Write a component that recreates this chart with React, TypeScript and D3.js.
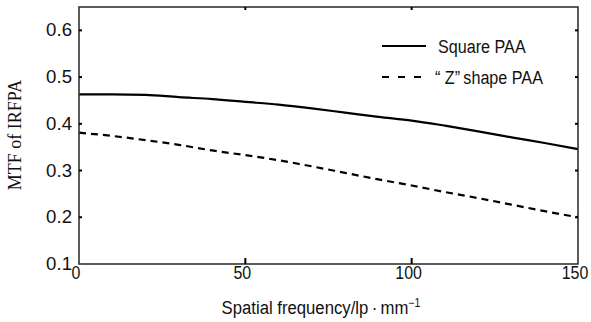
import * as d3 from "d3";
import { useEffect, useRef } from "react";

const freq = [0, 10, 20, 30, 40, 50, 60, 70, 80, 90, 100, 110, 120, 130, 140, 150];
const squarePAA = [0.463, 0.463, 0.462, 0.457, 0.453, 0.447, 0.441, 0.433, 0.424, 0.415, 0.407, 0.396, 0.384, 0.371, 0.359, 0.346];
const zShapePAA = [0.381, 0.374, 0.365, 0.355, 0.343, 0.333, 0.322, 0.309, 0.295, 0.281, 0.268, 0.254, 0.241, 0.227, 0.213, 0.2];
const xTicks = [0, 50, 100, 150];
const yTicks = [0.1, 0.2, 0.3, 0.4, 0.5, 0.6];
const seriesNames = ["Square PAA", "\u201c Z\u201d\u2009shape PAA"];

const SANS = "'Liberation Sans', Arial, sans-serif";

export default function App() {
  const ref = useRef<SVGSVGElement>(null);

  useEffect(() => {
    const svg = d3.select(ref.current);
    svg.selectAll("*").remove();
    const left = 79, right = 578, top = 7, bottom = 264;

    const x = d3.scaleLinear().domain([0, 150]).range([left, right]);
    const y = d3.scaleLinear().domain([0.1, 0.65]).range([bottom, top]);

    const line = d3.line<number>().x((_, i) => x(freq[i])).y(d => y(d)).curve(d3.curveMonotoneX);

    svg.append("path").datum(squarePAA).attr("d", line)
      .attr("fill", "none").attr("stroke", "#000").attr("stroke-width", 2.2);
    svg.append("path").datum(zShapePAA).attr("d", line)
      .attr("fill", "none").attr("stroke", "#000").attr("stroke-width", 2.2)
      .attr("stroke-dasharray", "7,5");

    // frame
    svg.append("rect").attr("x", left).attr("y", top)
      .attr("width", right - left).attr("height", bottom - top)
      .attr("fill", "none").attr("stroke", "#333").attr("stroke-width", 1.6);

    // inward ticks
    const tk = 3;
    const ax = svg.append("g").attr("stroke", "#000").attr("stroke-width", 2);
    yTicks.slice(1).forEach(v => {
      ax.append("line").attr("x1", left).attr("x2", left + tk).attr("y1", y(v)).attr("y2", y(v));
      ax.append("line").attr("x1", right).attr("x2", right - tk).attr("y1", y(v)).attr("y2", y(v));
    });
    xTicks.slice(1, -1).forEach(v => {
      ax.append("line").attr("x1", x(v)).attr("x2", x(v)).attr("y1", bottom).attr("y2", bottom - tk - 3);
      ax.append("line").attr("x1", x(v)).attr("x2", x(v)).attr("y1", top).attr("y2", top + tk);
    });

    // compressed sans text helper
    const sansText = (g: any, tx: number, ty: number, sx: number, anchor: string) =>
      g.append("text")
        .attr("transform", `translate(${tx},${ty}) scale(${sx},1)`)
        .attr("text-anchor", anchor)
        .style("font-family", SANS).style("font-size", "19px").attr("fill", "#111");

    // tick labels
    const yl = svg.append("g");
    yTicks.forEach(d => sansText(yl, left - 7, y(d) + 6, 0.98, "end").text(d3.format(".1f")(d)));
    const xl = svg.append("g");
    xTicks.forEach(d => sansText(xl, x(d) - 3, 279, 0.84, "middle").text(d));

    // axis titles
    const xt = sansText(svg, 321, 314, 0.88, "middle");
    xt.append("tspan").text("Spatial frequency/lp\u2009\u00b7\u2009mm");
    xt.append("tspan").attr("dy", -7).style("font-size", "12px").text("\u22121");

    svg.append("text").attr("transform", "translate(21,135) rotate(-90)")
      .attr("text-anchor", "middle")
      .style("font-family", "'Liberation Serif', 'Times New Roman', serif").style("font-size", "18px")
      .attr("fill", "#111").text("MTF of IRFPA");

    // legend
    const lg = svg.append("g");
    [0, 1].forEach(i => {
      const ly = i === 0 ? 46 : 77;
      lg.append("line").attr("x1", 382).attr("x2", 426).attr("y1", ly).attr("y2", ly)
        .attr("stroke", "#000").attr("stroke-width", 1.8)
        .attr("stroke-dasharray", i === 1 ? "7,9" : null);
      sansText(lg, i === 0 ? 438 : 435, ly + 7, 0.85, "start").text(seriesNames[i]);
    });
  }, []);

  return (
    <svg ref={ref} width={591} height={322}
      style={{ position: "absolute", left: 0, top: 0, background: "#fff" }} />
  );
}
